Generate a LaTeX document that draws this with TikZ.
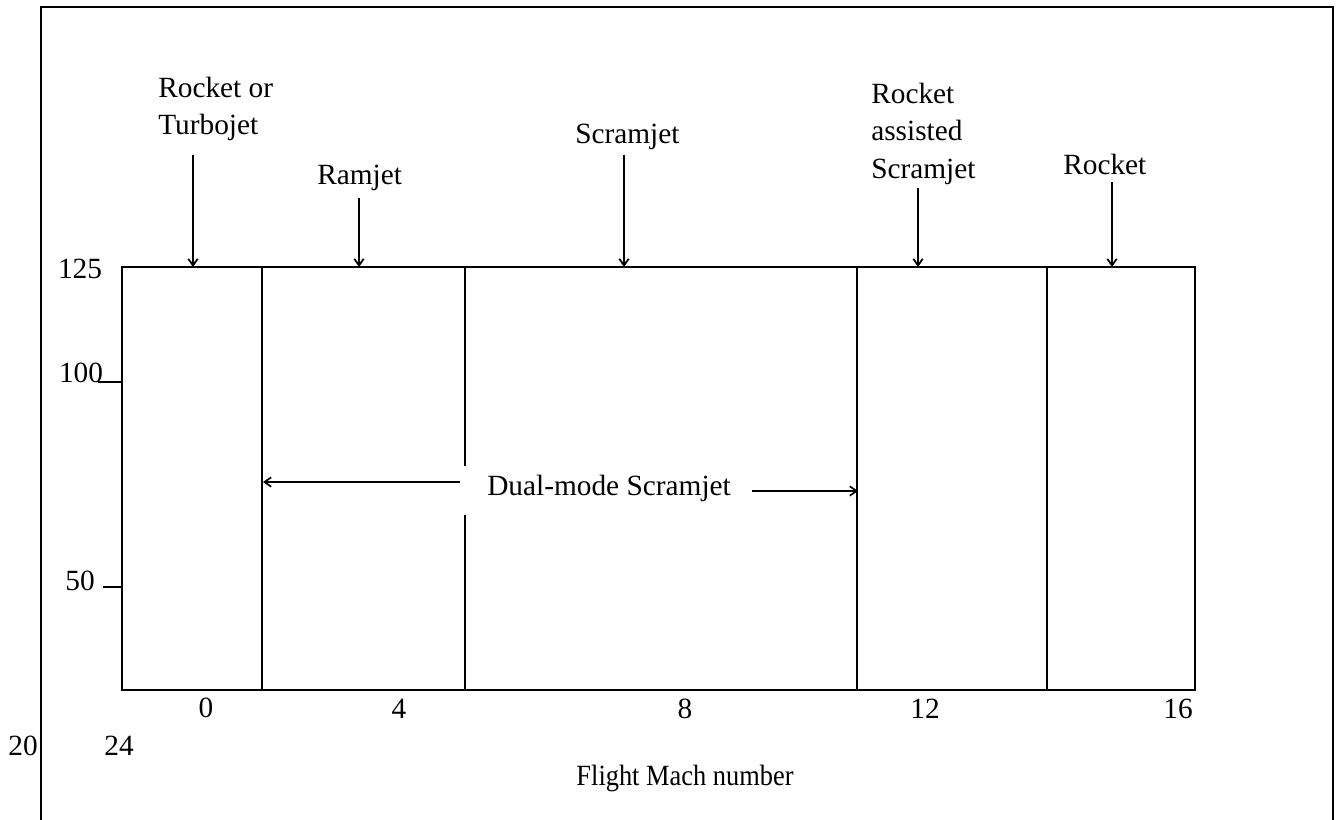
\documentclass[tikz,border=0pt]{standalone}
\usepackage{fontspec}
\setmainfont{Liberation Serif}
\usetikzlibrary{arrows.meta}
\begin{document}
\begin{tikzpicture}[x=0.75pt,y=-0.75pt,
  lbl/.style={font=\fontsize{22}{28}\selectfont, inner sep=0pt, align=left},
  num/.style={font=\fontsize{22}{28}\selectfont, inner sep=0pt},
  frameline/.style={line width=1.8pt},
  boxline/.style={line width=1.9pt},
  divline/.style={line width=1.4pt},
  tickline/.style={line width=1.4pt},
  ptr/.style={line width=1.3pt, -{Straight Barb[length=5pt,width=7pt]}},
]
\useasboundingbox (0,0) rectangle (1337,820);
% outer frame
\draw[frameline] (41,820) -- (41,7) -- (1333,7) -- (1333,820);
% plot box
\draw[boxline] (122,267) rectangle (1195,690);
% dividers
\draw[divline] (262,267) -- (262,690);
\draw[divline] (465,267) -- (465,466);
\draw[divline] (465,515) -- (465,690);
\draw[divline] (857,267) -- (857,690);
\draw[divline] (1047,267) -- (1047,690);
% y ticks
\draw[tickline] (98,382) -- (121,382);
\draw[tickline] (103,587) -- (121,587);
% y labels
\node[num, anchor=base] (y125) at (80,278) {125};
\node[num, anchor=base] (y100) at (81,382) {100};
\node[num, anchor=base] (y50) at (80,590) {50};
% x labels
\node[num, anchor=base] (x0) at (206,717) {0};
\node[num, anchor=base] (x4) at (399,718) {4};
\node[num, anchor=base] (x8) at (685,718) {8};
\node[num, anchor=base] (x12) at (925,718) {12};
\node[num, anchor=base] (x16) at (1178,718) {16};
\node[num, anchor=base] (x20) at (23,755) {20};
\node[num, anchor=base] (x24) at (119,755) {24};
\node[num, anchor=base] (xt) at (685,785) {\scalebox{0.9}[1]{Flight Mach number}};
% regime labels
\node[lbl, anchor=north west] (rt) at (158,77) {Rocket or\\Turbojet};
\node[lbl, anchor=base west] (rj) at (317,185) {Ramjet};
\node[lbl, anchor=base west] (sj) at (575,143) {Scramjet};
\node[lbl, anchor=north west] (ras) at (871,83) {Rocket\\assisted\\Scramjet};
\node[lbl, anchor=base west] (rk) at (1063,174) {Rocket};
\node[lbl, anchor=base west] (dm) at (487,495) {Dual-mode Scramjet};
% arrow coordinates
\coordinate (rt-a) at (193,155); \coordinate (rt-b) at (193,267);
\coordinate (rj-a) at (359,198); \coordinate (rj-b) at (359,267);
\coordinate (sj-a) at (624,155); \coordinate (sj-b) at (624,267);
\coordinate (ras-a) at (918,188); \coordinate (ras-b) at (918,267);
\coordinate (rk-a) at (1112,182); \coordinate (rk-b) at (1112,267);
\coordinate (dm-la) at (460,482); \coordinate (dm-lb) at (263,482);
\coordinate (dm-ra) at (752,491); \coordinate (dm-rb) at (858,491);
\draw[ptr] (rt-a) -- (rt-b);
\draw[ptr] (rj-a) -- (rj-b);
\draw[ptr] (sj-a) -- (sj-b);
\draw[ptr] (ras-a) -- (ras-b);
\draw[ptr] (rk-a) -- (rk-b);
\draw[ptr] (dm-la) -- (dm-lb);
\draw[ptr] (dm-ra) -- (dm-rb);
\end{tikzpicture}
\end{document}
